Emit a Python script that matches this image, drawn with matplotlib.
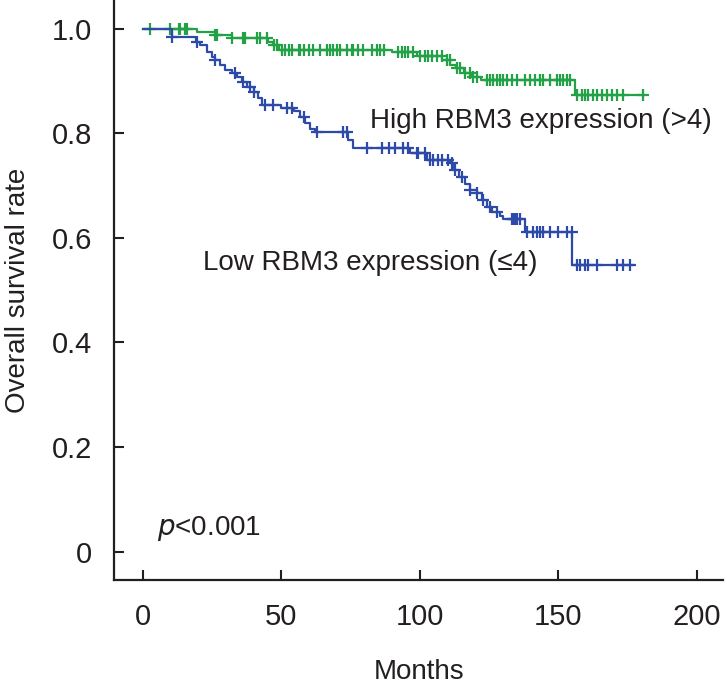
import numpy as np
import matplotlib
matplotlib.use("Agg")
import matplotlib.pyplot as plt

# ---- data ----
high_event_times = [0, 19.5, 26, 32, 45, 47, 49, 90, 99, 108, 111, 113, 116, 119, 122, 156, 181]
high_survival    = [1.0, 0.994, 0.988, 0.983, 0.975, 0.968, 0.960, 0.956, 0.948, 0.940,
                    0.931, 0.925, 0.915, 0.908, 0.902, 0.873, 0.873]
high_censor = [2.6, 9.8, 12.9, 13.5, 15.3, 15.9, 26.1, 26.7, 32.1, 36.3, 36.9, 41.2, 42.3,
               44.8, 47.2, 48.4, 50.2, 51.4, 52.6, 53.8, 56.2, 56.8, 58, 59.8, 61.6, 64,
               66.4, 67.6, 68.8, 70, 71.2, 73.6, 75.5, 76, 77.8, 79.6, 82.7, 84.5, 85.7,
               86.9, 92.3, 93.5, 94.7, 95.9, 97.7, 100.1, 101.9, 103.1, 104.3, 106.1,
               107.9, 109.7, 110.9, 113.4, 114.5, 116.4, 118.2, 119.3, 120.6, 124.2,
               125.4, 126.6, 127.8, 129, 130.2, 131.4, 133.2, 135, 138, 139.8, 141.7,
               143.4, 144.6, 147, 149.5, 150.6, 151.8, 153, 154.3, 156.7, 158.5, 159.7,
               160.9, 162.7, 163.9, 165.7, 167.5, 169.3, 171.1, 173.5, 180.7]

low_event_times = [0, 10.5, 19, 20.7, 23, 25, 26, 28, 29.7, 32, 34, 35.7, 37.5, 40, 41.7, 43,
                   50, 54.4, 56.8, 58.6, 60.4, 62.2, 74, 76, 96.5, 102.5, 111, 112, 114,
                   116.4, 118, 120.6, 122.4, 124.2, 126, 129, 130, 138, 155, 177]
low_survival    = [1.0, 0.984, 0.975, 0.969, 0.956, 0.946, 0.940, 0.931, 0.921, 0.915, 0.907,
                   0.899, 0.889, 0.879, 0.867, 0.854, 0.848, 0.842, 0.832, 0.819, 0.809,
                   0.803, 0.788, 0.771, 0.762, 0.749, 0.743, 0.730, 0.717, 0.704, 0.692,
                   0.685, 0.672, 0.660, 0.650, 0.641, 0.637, 0.612, 0.548, 0.548]
low_censor = [10.5, 19.5, 26, 33.3, 36.3, 38.7, 40, 44, 47, 52, 53.8, 58, 62.8, 72.4, 73.6,
              80.9, 86.3, 88.7, 91.1, 94.1, 95.9, 98.9, 99.5, 101.9, 103.7, 104.9, 106.7,
              107.9, 110.3, 111.6, 112.7, 115.2, 118.2, 120.6, 123, 125.4, 127.8, 133.2,
              133.8, 134.4, 135, 136.2, 138.6, 141, 142.2, 143.4, 144.6, 147, 150, 153.1,
              154.9, 156.7, 158, 159.7, 160.9, 163.9, 171.1, 173.5, 175.9]

x_ticks = [0, 50, 100, 150, 200]
y_ticks = [0, 0.2, 0.4, 0.6, 0.8, 1.0]
y_ticklabels = ["0", "0.2", "0.4", "0.6", "0.8", "1.0"]

high_label = "High RBM3 expression (>4)"
low_label = "Low RBM3 expression (\u22644)"

GREEN = "#22a147"
BLUE = "#2d4aa8"
TXT = "#231f20"
FS_TICK = 21
FS = 20

plt.rcParams['font.family'] = ['Liberation Sans', 'DejaVu Sans']

fig = plt.figure(figsize=(7.27, 6.87), dpi=100)
ax = fig.add_axes([0.157, 0.156, 0.8375, 0.844])


def censor_y(times, surv, ct):
    times = np.asarray(times)
    surv = np.asarray(surv)
    idx = np.searchsorted(times, ct, side='right') - 1
    return surv[idx]


for t, s, c, col in [(high_event_times, high_survival, high_censor, GREEN),
                     (low_event_times, low_survival, low_censor, BLUE)]:
    ax.step(t, s, where='post', color=col, lw=1.6)
    ax.plot(c, censor_y(t, s, np.asarray(c)), ls='none', marker='+', ms=9,
            mew=1.6, color=col)

ax.set_xlim(-10.4, 209.5)
ax.set_ylim(-0.054, 1.055)
ax.set_xticks(x_ticks)
ax.set_yticks(y_ticks)
ax.set_yticklabels(y_ticklabels)
for sp in ['top', 'right']:
    ax.spines[sp].set_visible(False)
for sp in ['left', 'bottom']:
    ax.spines[sp].set_linewidth(1.6)
    ax.spines[sp].set_color(TXT)
ax.tick_params(direction='in', length=7, width=1.5, colors=TXT, labelsize=FS_TICK)
ax.tick_params(axis='x', pad=17)
ax.tick_params(axis='y', pad=16)

ax.set_xlabel("Months", fontsize=FS, color=TXT, labelpad=20)
ax.set_ylabel("Overall survival rate", fontsize=FS, color=TXT, labelpad=15)

ax.text(82.0, 0.810, high_label, fontsize=FS, color=TXT, va='baseline', ha='left')
ax.text(21.8, 0.538, low_label, fontsize=FS, color=TXT, va='baseline', ha='left')
ax.text(5.2, 0.032, r"$\it{p}$" + "<0.001", fontsize=FS, color=TXT, va='baseline', ha='left')

fig.savefig("out.png", dpi=100)
